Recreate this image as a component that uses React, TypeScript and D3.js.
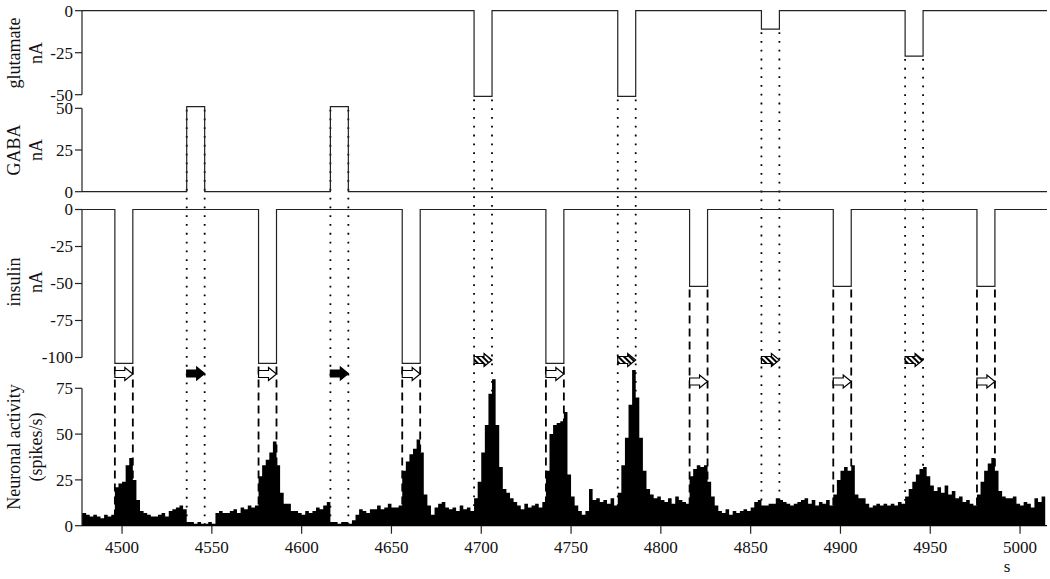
import React from 'react';
import * as d3 from 'd3';

// ---------- data ----------
const T_START = 4477.7;
const T_END = 5015;
const BIN_START = 4478;
const BIN_WIDTH = 2;
const PULSE_DURATION = 10;

// neuronal activity (spikes/s), 2 s bins from 4478 s
const rates: number[] = [
  7, 6, 5, 6, 5, 4, 6, 5, 6, 21,
  23, 24, 33, 37, 25, 14, 8, 7, 6, 5,
  5, 6, 7, 5, 8, 9, 10, 11, 9, 2,
  2, 1, 2, 1, 1, 2, 1, 7, 8, 7,
  7, 8, 9, 7, 10, 9, 11, 10, 11, 27,
  33, 36, 40, 46, 33, 18, 12, 12, 8, 8,
  7, 6, 8, 7, 8, 10, 9, 11, 13, 2,
  2, 1, 2, 2, 1, 3, 6, 9, 8, 7,
  9, 9, 11, 9, 10, 12, 10, 10, 11, 30,
  35, 39, 42, 47, 40, 17, 11, 6, 10, 12,
  13, 10, 9, 10, 8, 11, 9, 10, 8, 15,
  24, 40, 55, 72, 80, 55, 32, 20, 18, 15,
  13, 11, 9, 12, 10, 11, 12, 10, 13, 30,
  50, 55, 56, 57, 62, 28, 16, 11, 8, 6,
  8, 20, 14, 15, 13, 14, 12, 15, 11, 18,
  33, 48, 66, 85, 70, 48, 30, 20, 17, 15,
  16, 14, 13, 15, 12, 16, 14, 13, 12, 27,
  31, 33, 32, 33, 24, 16, 11, 8, 7, 9,
  6, 8, 7, 8, 9, 8, 10, 13, 14, 11,
  11, 12, 12, 15, 14, 13, 12, 11, 12, 13,
  14, 15, 12, 14, 11, 13, 12, 14, 11, 17,
  25, 30, 32, 30, 33, 17, 15, 15, 12, 10,
  11, 12, 11, 12, 11, 12, 11, 13, 12, 16,
  20, 24, 28, 31, 32, 27, 22, 19, 21, 18,
  22, 17, 19, 15, 16, 13, 14, 12, 11, 17,
  24, 30, 34, 37, 30, 19, 16, 15, 15, 16,
  12, 11, 13, 12, 10, 15, 13, 16,
];

const insulinOn = [4496, 4576, 4656, 4736, 4816, 4896, 4976];
const insulinAmp = [-104, -104, -104, -104, -52, -52, -52];
const gabaOn = [4536, 4616];
const gabaAmp = [51, 51];
const glutOn = [4696, 4776, 4856, 4936];
const glutAmp = [-51, -51, -11, -27];

const xTicks = [4500, 4550, 4600, 4650, 4700, 4750, 4800, 4850, 4900, 4950, 5000];
const gluTicks = [0, -25, -50];
const gabaTicks = [0, 25, 50];
const insTicks = [0, -25, -50, -75, -100];
const neuTicks = [0, 25, 50, 75];

// ---------- layout ----------
const W = 1050;
const H = 579;
const FONT = '"Liberation Serif", "Times New Roman", Times, serif';
const FS = 17;
const AX = 82;

const x = d3.scaleLinear().domain([T_START, T_END]).range([AX, 1047]);
const yGlu = d3.scaleLinear().domain([-50, 0]).range([94.7, 10.7]);
const yGaba = d3.scaleLinear().domain([0, 50]).range([191.7, 108.3]);
const yIns = d3.scaleLinear().domain([-100, 0]).range([357.5, 209.5]);
const yNeu = d3.scaleLinear().domain([0, 75]).range([525.7, 388.3]);

function stepPoints(ons: number[], amps: number[]): [number, number][] {
  const pts: [number, number][] = [[T_START, 0]];
  ons.forEach((on, i) => {
    pts.push([on, 0], [on, amps[i]], [on + PULSE_DURATION, amps[i]], [on + PULSE_DURATION, 0]);
  });
  pts.push([T_END, 0]);
  return pts;
}

function arrowPath(x0: number, x1: number, yc: number) {
  const sh = 3.5, hh = 6.5, hl = 8;
  return `M${x0},${yc - sh}L${x1 - hl},${yc - sh}L${x1 - hl},${yc - hh}L${x1},${yc}L${x1 - hl},${yc + hh}L${x1 - hl},${yc + sh}L${x0},${yc + sh}Z`;
}

function LeftAxis({ scale, ticks }: { scale: d3.ScaleLinear<number, number>; ticks: number[] }) {
  const [r0, r1] = scale.range();
  return (
    <g>
      <line x1={AX} x2={AX} y1={r0} y2={r1} stroke="#222" strokeWidth={1.2} />
      {ticks.map((t) => (
        <g key={t}>
          <line x1={AX - 7} x2={AX} y1={scale(t)} y2={scale(t)} stroke="#222" strokeWidth={1.2} />
          <text x={AX - 9} y={scale(t)} dy="0.35em" textAnchor="end" fontSize={FS} fontFamily={FONT} fill="#111">
            {t}
          </text>
        </g>
      ))}
    </g>
  );
}

function AxisTitle({ lines, yc }: { lines: string[]; yc: number }) {
  const xs = [14, 36];
  return (
    <g>
      {lines.map((l, i) => (
        <text
          key={i}
          transform={`translate(${xs[i]},${yc}) rotate(-90)`}
          textAnchor="middle"
          dy="0.35em"
          fontSize={FS + 1}
          fontFamily={FONT}
          fill="#111"
        >
          {l}
        </text>
      ))}
    </g>
  );
}

export default function App() {
  const line = d3.line<[number, number]>();
  const gluPath = line(stepPoints(glutOn, glutAmp).map(([t, v]) => [x(t), yGlu(v)]));
  const gabaPath = line(stepPoints(gabaOn, gabaAmp).map(([t, v]) => [x(t), yGaba(v)]));
  const insPath = line(stepPoints(insulinOn, insulinAmp).map(([t, v]) => [x(t), yIns(v)]));

  const bins = rates.map((r, i) => ({ t0: BIN_START + i * BIN_WIDTH, r }));
  const area = d3
    .area<{ t0: number; r: number }>()
    .x((d) => x(d.t0))
    .y0(yNeu(0))
    .y1((d) => yNeu(d.r))
    .curve(d3.curveStepAfter);
  const histData = [...bins, { t0: Math.min(BIN_START + rates.length * BIN_WIDTH, T_END), r: rates[rates.length - 1] }];
  const histPath = area([{ t0: T_START, r: rates[0] }, ...histData]);

  const yBase = yNeu(0);

  return (
    <svg width={W} height={H} style={{ position: 'absolute', left: 0, top: 0, background: '#fff' }}>
      <defs>
        <pattern id="hatch" width="4" height="4" patternUnits="userSpaceOnUse" patternTransform="rotate(-45)">
          <rect width="4" height="4" fill="#fff" />
          <rect width="2" height="4" fill="#000" />
        </pattern>
      </defs>
      <rect width={W} height={H} fill="#fff" />

      {/* guide lines */}
      {glutOn.map((on, i) =>
        [on, on + PULSE_DURATION].map((t) => (
          <line key={`gl${i}${t}`} x1={x(t)} x2={x(t)} y1={yGlu(glutAmp[i]) + 3} y2={yBase} stroke="#000" strokeWidth={1.8} strokeDasharray="1.8,7" />
        ))
      )}
      {gabaOn.map((on, i) =>
        [on, on + PULSE_DURATION].map((t) => (
          <line key={`ga${i}${t}`} x1={x(t)} x2={x(t)} y1={yGaba(gabaAmp[i]) + 3} y2={yBase} stroke="#000" strokeWidth={1.8} strokeDasharray="1.8,7" />
        ))
      )}
      {insulinOn.map((on, i) =>
        [on, on + PULSE_DURATION].map((t) => (
          <line key={`in${i}${t}`} x1={x(t)} x2={x(t)} y1={yIns(insulinAmp[i]) + 3} y2={yBase} stroke="#000" strokeWidth={1.8} strokeDasharray="8,5" />
        ))
      )}

      {/* traces */}
      <path d={gluPath!} fill="none" stroke="#222" strokeWidth={1.2} />
      <path d={gabaPath!} fill="none" stroke="#222" strokeWidth={1.2} />
      <path d={insPath!} fill="none" stroke="#222" strokeWidth={1.2} />

      {/* arrows */}
      {insulinOn.map((on, i) => (
        <path key={`ai${i}`} d={arrowPath(x(on), x(on + PULSE_DURATION), insulinAmp[i] < -75 ? 374 : 381.5)} fill="#fff" stroke="#000" strokeWidth={1.2} />
      ))}
      {gabaOn.map((on, i) => (
        <path key={`ag${i}`} d={arrowPath(x(on), x(on + PULSE_DURATION), 373.5)} fill="#000" stroke="#000" strokeWidth={1.2} />
      ))}
      {glutOn.map((on, i) => (
        <path key={`au${i}`} d={arrowPath(x(on), x(on + PULSE_DURATION), 360)} fill="url(#hatch)" stroke="#000" strokeWidth={1.2} />
      ))}

      {/* histogram */}
      <path d={histPath!} fill="#000" stroke="none" />

      {/* axes */}
      <LeftAxis scale={yGlu} ticks={gluTicks} />
      <LeftAxis scale={yGaba} ticks={gabaTicks} />
      <LeftAxis scale={yIns} ticks={insTicks} />
      <LeftAxis scale={yNeu} ticks={neuTicks} />

      <line x1={AX} x2={1047} y1={yBase} y2={yBase} stroke="#000" strokeWidth={1.2} />
      {xTicks.map((t) => (
        <g key={t}>
          <line x1={x(t)} x2={x(t)} y1={yBase} y2={yBase + 8} stroke="#222" strokeWidth={1.2} />
          <text x={x(t)} y={yBase + 27} textAnchor="middle" fontSize={FS} fontFamily={FONT} fill="#111">
            {t}
          </text>
        </g>
      ))}
      <text x={1007} y={572} textAnchor="middle" fontSize={FS} fontFamily={FONT} fill="#111">
        s
      </text>

      <AxisTitle lines={['glutamate', 'nA']} yc={53} />
      <AxisTitle lines={['GABA', 'nA']} yc={150} />
      <AxisTitle lines={['insulin', 'nA']} yc={282} />
      <AxisTitle lines={['Neuronal activity', '(spikes/s)']} yc={447} />
    </svg>
  );
}
